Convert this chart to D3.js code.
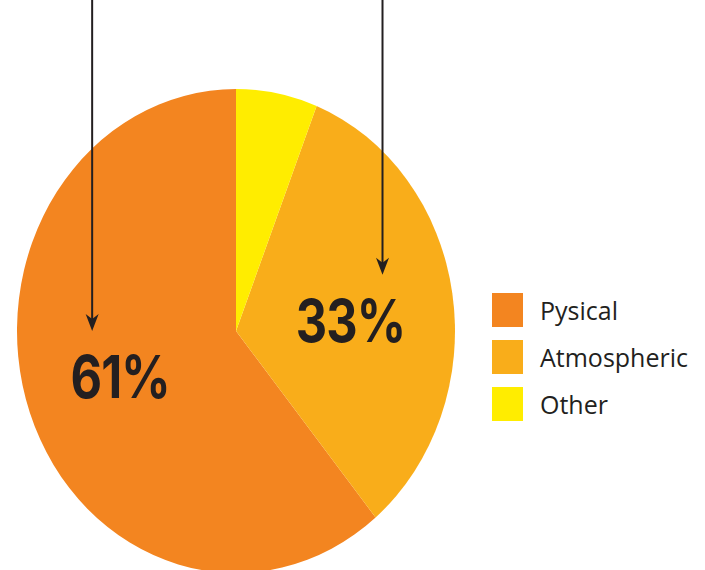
<!DOCTYPE html>
<html><head><meta charset="utf-8">
<script src="https://cdn.jsdelivr.net/npm/d3@7"></script>
<style>html,body{margin:0;padding:0;background:#fff;}svg{display:block;}</style>
</head><body>
<svg id="chart" width="705" height="570"></svg>
<script>
const categories = ["Pysical", "Atmospheric", "Other"];
const values = [61, 33, 6];
const labels = ["61%", "33%", ""];
const colors = ["#F38520", "#F9AD1A", "#FFED00"];
// annotation placement (label nudges and arrow offsets)
const labelNudges = [[-2, 0], [-5, 10]];
const arrowSlices = [0, 1];
const arrowOffsets = [-28, 32];

const cx = 236, cy = 331, r = 219, sy = 242 / 219;
const svg = d3.select("#chart");
const data = categories.map((c, i) => ({cat: c, value: values[i], label: labels[i], color: colors[i]}));

const pie = d3.pie().sort(null).value(d => d.value).startAngle(2 * Math.PI).endAngle(0);
const arcs = pie(data);
const arc = d3.arc().innerRadius(0).outerRadius(r);
const labelArc = d3.arc().innerRadius(121).outerRadius(121);

const g = svg.append("g").attr("transform", `translate(${cx},${cy}) scale(1,${sy})`);
g.selectAll("path").data(arcs).join("path")
  .attr("d", arc).attr("fill", d => d.data.color);

const labelPos = arcs.map((a, i) => {
  const c = labelArc.centroid(a);
  const n = labelNudges[i] || [0, 0];
  return [cx + c[0] + n[0], cy + c[1] * sy + n[1]];
});
svg.selectAll("text.pct").data(arcs.filter(a => a.data.label)).join("text")
  .attr("class", "pct")
  .attr("transform", (d, i) => `translate(${labelPos[i][0]},${labelPos[i][1]}) scale(0.9,${sy})`)
  .attr("text-anchor", "middle").attr("dy", "0.36em")
  .attr("font-family", "Inter, Lato, sans-serif").attr("font-weight", 700)
  .attr("font-size", 54).attr("fill", "#231F20").attr("letter-spacing", -1)
  .text(d => d.data.label);

// arrows
arrowSlices.forEach((s, i) => {
  const [lx, ly] = labelPos[s];
  const x = lx + arrowOffsets[i];
  const tip = ly - 22 * sy - 21;
  svg.append("line").attr("x1", x).attr("x2", x).attr("y1", 0).attr("y2", tip - 4)
    .attr("stroke", "#231F20").attr("stroke-width", 2);
  svg.append("path")
    .attr("d", `M${x - 6.5},${tip - 17} L${x},${tip} L${x + 6.5},${tip - 17} L${x},${tip - 12} Z`)
    .attr("fill", "#231F20");
});

// legend
const leg = svg.append("g").attr("transform", "translate(492,293)");
const li = leg.selectAll("g").data(data).join("g")
  .attr("transform", (d, i) => `translate(0,${i * 47})`);
li.append("rect").attr("width", 31).attr("height", 34).attr("fill", d => d.color);
li.append("text").attr("x", 48).attr("y", 27)
  .attr("font-family", "'Open Sans', sans-serif").attr("font-size", 25).attr("fill", "#231F20")
  .text(d => d.cat);
</script>
</body></html>
